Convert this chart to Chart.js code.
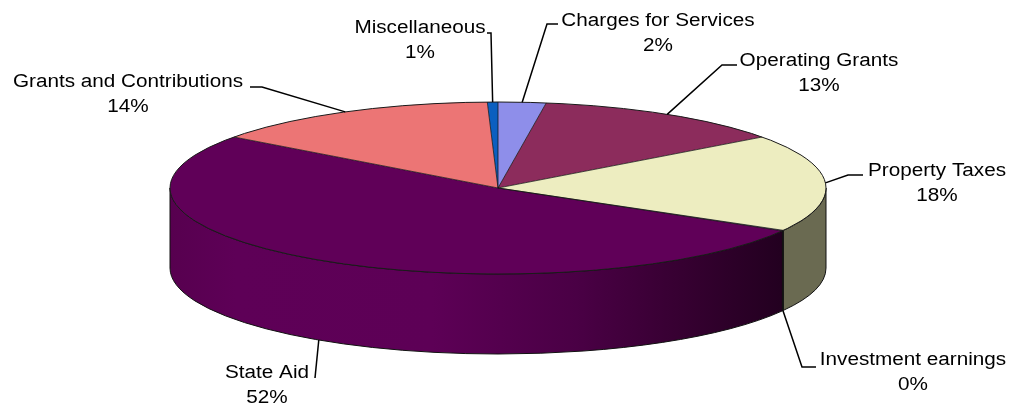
<!DOCTYPE html>
<html>
<head>
<meta charset="utf-8">
<script src="https://cdn.jsdelivr.net/npm/chart.js@4/dist/chart.umd.min.js"></script>
<style>
  html, body { margin: 0; padding: 0; background: #ffffff; }
  #wrap { width: 1019px; height: 404px; }
</style>
</head>
<body>
<div id="wrap"><canvas id="c" width="1019" height="404"></canvas></div>
<script>
// ---- data ----
const categories = ['Charges for Services', 'Operating Grants', 'Property Taxes', 'Investment earnings', 'State Aid', 'Grants and Contributions', 'Miscellaneous'];
const shares = [2.35, 12.55, 18.3, 0.1, 51.8, 14.38, 0.52];

// ---- style ----
const topColors  = ['#8E8EEA', '#8C2C5C', '#EDEDC0', '#D8D8D8', '#600058', '#EC7575', '#0B5FC0'];
const sideColors = ['#4A4A7A', '#48162F', '#6A6A51', '#B0B0B0', 'STATE_GRADIENT', '#7A3C3C', '#063060'];
// label layout: text centre x, first baseline y, elbow point, end of short horizontal
const labelLayout = [
  { tx: 658, ty: 26,  ex: 547, ey: 24,  hx: 558 },
  { tx: 819, ty: 66,  ex: 722, ey: 65,  hx: 737 },
  { tx: 937, ty: 176, ex: 848, ey: 175, hx: 863 },
  { tx: 913, ty: 365, ex: 802, ey: 367, hx: 816 },
  { tx: 267, ty: 378, ex: 315, ey: 378, hx: 315 },
  { tx: 128, ty: 87,  ex: 262, ey: 87,  hx: 250 },
  { tx: 420, ty: 33,  ex: 491, ey: 33,  hx: 487 }
];
// 3D projection
const CX = 498, CY = 188, RX = 328, RY = 86, DEPTH = 80;
const FONT = '18px "Liberation Sans", Arial, sans-serif';
const TEXT_STRETCH = 1.15;

function arcInfo(chart) {
  const meta = chart.getDatasetMeta(0);
  return meta.data.map(el => el.getProps(['x', 'y', 'startAngle', 'endAngle', 'outerRadius'], true));
}
function pt(a, dy) { return [CX + RX * Math.cos(a), CY + RY * Math.sin(a) + (dy || 0)]; }

const pie3d = {
  id: 'pie3d',
  beforeDatasetsDraw(chart) {
    const ctx = chart.ctx;
    const arcs = arcInfo(chart);
    // side walls (front half: canvas angle 0..PI)
    arcs.forEach((p, i) => {
      const a = Math.max(p.startAngle, 0), b = Math.min(p.endAngle, Math.PI);
      if (b <= a) return;
      ctx.save();
      ctx.beginPath();
      const s = pt(a);
      ctx.moveTo(s[0], s[1]);
      ctx.ellipse(CX, CY, RX, RY, 0, a, b, false);
      const e = pt(b, DEPTH);
      ctx.lineTo(e[0], e[1]);
      ctx.ellipse(CX, CY + DEPTH, RX, RY, 0, b, a, true);
      ctx.closePath();
      if (sideColors[i] === 'STATE_GRADIENT') {
        const g = ctx.createLinearGradient(CX - RX, 0, CX + RX, 0);
        g.addColorStop(0.0, '#57004F');
        g.addColorStop(0.10, '#5E0057');
        g.addColorStop(0.40, '#5D0056');
        g.addColorStop(0.62, '#4A0045');
        g.addColorStop(0.78, '#360031');
        g.addColorStop(0.93, '#230020');
        ctx.fillStyle = g;
      } else {
        ctx.fillStyle = sideColors[i];
      }
      ctx.fill();
      ctx.lineWidth = 1;
      ctx.strokeStyle = '#111';
      ctx.stroke();
      ctx.restore();
    });
    // project the library's circular arcs onto the tilted ellipse
    const p0 = arcs[0];
    ctx.save();
    ctx.translate(CX, CY);
    ctx.scale(RX / p0.outerRadius, RY / p0.outerRadius);
    ctx.translate(-p0.x, -p0.y);
  },
  afterDatasetsDraw(chart) {
    const ctx = chart.ctx;
    ctx.restore();
    const arcs = arcInfo(chart);
    // radial boundaries
    ctx.save();
    ctx.strokeStyle = 'rgba(20,20,20,0.85)';
    ctx.lineWidth = 0.9;
    arcs.forEach(p => {
      const q = pt(p.startAngle);
      ctx.beginPath();
      ctx.moveTo(CX, CY);
      ctx.lineTo(q[0], q[1]);
      ctx.stroke();
    });
    // top outline
    ctx.beginPath();
    ctx.ellipse(CX, CY, RX, RY, 0, 0, Math.PI * 2);
    ctx.lineWidth = 1;
    ctx.strokeStyle = '#1a1a1a';
    ctx.stroke();
    ctx.restore();
  },
  afterDraw(chart) {
    const ctx = chart.ctx;
    const arcs = arcInfo(chart);
    const total = shares.reduce((s, v) => s + v, 0);
    ctx.save();
    arcs.forEach((p, i) => {
      const mid = (p.startAngle + p.endAngle) / 2;
      const front = Math.sin(mid) > 0.1;
      const anc = pt(mid, front ? DEPTH : 0);
      const L = labelLayout[i];
      ctx.beginPath();
      ctx.moveTo(anc[0], anc[1]);
      ctx.lineTo(L.ex, L.ey);
      ctx.lineTo(L.hx, L.ey);
      ctx.strokeStyle = '#000';
      ctx.lineWidth = 1.5;
      ctx.stroke();
      const pct = Math.round(shares[i] / total * 100) + '%';
      ctx.fillStyle = '#000';
      ctx.font = FONT;
      ctx.textAlign = 'center';
      ctx.textBaseline = 'alphabetic';
      [[categories[i], L.ty], [pct, L.ty + 24.5]].forEach(([t, y]) => {
        ctx.save();
        ctx.translate(L.tx, y);
        ctx.scale(TEXT_STRETCH, 1);
        ctx.fillText(t, 0, 0);
        ctx.restore();
      });
    });
    ctx.restore();
  }
};

new Chart(document.getElementById('c'), {
  type: 'pie',
  data: {
    labels: categories,
    datasets: [{
      data: shares,
      backgroundColor: topColors,
      borderWidth: 0,
      clip: false
    }]
  },
  options: {
    responsive: false,
    devicePixelRatio: 1,
    animation: false,
    rotation: 0,
    layout: { padding: 0 },
    plugins: { legend: { display: false }, tooltip: { enabled: false } }
  },
  plugins: [pie3d]
});
</script>
</body>
</html>
